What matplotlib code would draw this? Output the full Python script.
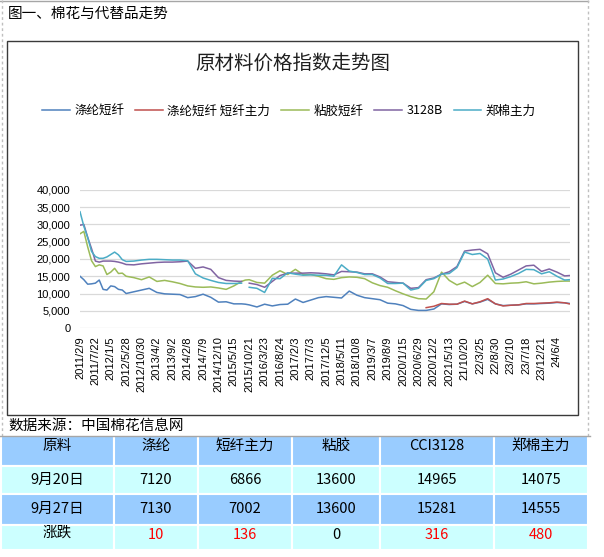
import numpy as np
import matplotlib
matplotlib.use("Agg")
import matplotlib.pyplot as plt
from matplotlib.patches import Rectangle
from matplotlib.lines import Line2D
from matplotlib.ticker import FuncFormatter

plt.rcParams['font.family'] = ['Noto Sans CJK SC', 'DejaVu Sans']

# ---------------- data ----------------
x_labels = ["2011/2/9", "2011/7/22", "2012/1/5", "2012/5/28", "2012/10/30", "2013/4/2",
            "2013/9/2", "2014/2/8", "2014/7/9", "2014/12/10", "2015/5/15", "2015/10/21",
            "2016/3/23", "2016/8/24", "2017/2/3", "2017/7/3", "2017/12/5", "2018/5/11",
            "2018/10/8", "2019/3/7", "2019/8/9", "2020/1/15", "2020/6/29", "2020/12/2",
            "2021/5/13", "21/10/20", "22/3/25", "22/8/30", "23/2/10", "23/7/18",
            "23/12/21", "24/6/4"]

# positions in units of x-label intervals
pos = [0, 0.25, 0.5, 0.75, 1, 1.25, 1.5, 1.75, 2, 2.25, 2.5, 2.75, 3,
       3.5, 4, 4.5, 5, 5.5, 6, 6.5, 7, 7.5, 8, 8.5, 9, 9.5, 10, 10.5, 10.75,
       11, 11.5, 12, 12.5, 13, 13.5, 14, 14.5, 15, 15.5, 16, 16.5, 17, 17.5,
       18, 18.5, 19, 19.5, 20, 20.5, 21, 21.5, 22, 22.5, 23, 23.5, 24, 24.5,
       25, 25.5, 26, 26.5, 27, 27.5, 28, 28.5, 29, 29.5, 30, 30.5, 31, 31.5, 31.8]

nan = float('nan')

polyester = [15000, 14000, 12700, 12800, 13000, 13900, 11200, 11000, 12200, 12000, 11200, 11000, 10000,
             10500, 11000, 11500, 10300, 9900, 9800, 9700, 8800, 9100, 9800, 8900, 7500, 7600, 7000, 7000, 6900,
             6700, 6100, 6900, 6400, 6800, 6900, 8400, 7400, 8100, 8800, 9100, 8900, 8700, 10700,
             9500, 8800, 8500, 8200, 7200, 7000, 6500, 5400, 5100, 5100, 5500, 7000, 6800, 6900,
             7700, 7000, 7500, 8300, 7000, 6500, 6600, 6700, 7000, 7000, 7100, 7200, 7400, 7300, 7130]

polyester_main = [nan] * 52 + [5900, 6300, 7100, 6900, 6900,
                               7800, 7000, 7600, 8500, 7000, 6400, 6600, 6700, 7100, 7100, 7200, 7300, 7500, 7300, 7000]

viscose = [27300, 28000, 23500, 19500, 17800, 18300, 18000, 15500, 16200, 17300, 15800, 15900, 15000,
           14600, 14000, 14800, 13500, 13800, 13400, 12900, 12200, 11900, 11800, 11900, 11600, 11200, 12200, 13500, 13900,
           14000, 13200, 13000, 15300, 16600, 15500, 17000, 15500, 15500, 15000, 14300, 14100, 14600, 14800,
           14700, 14300, 13100, 12300, 11800, 10800, 9900, 9100, 8500, 8400, 10500, 16200, 13800, 12500,
           13300, 12000, 13200, 15300, 12900, 12800, 13000, 13100, 13400, 12800, 13000, 13300, 13500, 13600, 13600]

cotton_3128b = [29800, 30000, 26300, 23000, 19400, 19100, 19400, 19400, 19400, 19300, 19100, 18800, 18400,
                18300, 18600, 18800, 19000, 19100, 19100, 19200, 19400, 17300, 17700, 17000, 14600, 13800, 13600, 13500, nan,
                13000, 12600, 11800, 13500, 15200, 15900, 15900, 15900, 16000, 15900, 15700, 15400, 16400, 16300,
                16200, 15700, 15700, 14800, 13400, 13200, 13000, 11500, 11700, 14000, 14500, 15600, 16300, 17800,
                22300, 22600, 22800, 21500, 16000, 14700, 15600, 16800, 18000, 18200, 16400, 17100, 16200, 15100, 15200]

zce_cotton = [33700, 29500, 26200, 22200, 20700, 20200, 20200, 20600, 21300, 22000, 21200, 19800, 19300,
              19400, 19700, 19900, 19900, 19800, 19700, 19700, 19500, 15700, 14500, 13800, 13200, 12900, 12900, 13000, nan,
              11800, 11500, 10300, 14400, 14300, 16000, 15600, 15300, 15400, 15300, 15300, 15000, 18300, 16500,
              16100, 15500, 15500, 14500, 12900, 12900, 13000, 11000, 11500, 13800, 14300, 15600, 15800, 17500,
              22000, 21300, 21600, 20000, 13900, 14200, 14900, 15800, 17000, 16900, 15700, 16300, 15000, 13900, 14000]

series_names = ["涤纶短纤", "涤纶短纤 短纤主力", "粘胶短纤", "3128B", "郑棉主力"]
series_colors = ["#4F81BD", "#C0504D", "#9BBB59", "#8064A2", "#4BACC6"]

table_header = ["原料", "涤纶", "短纤主力", "粘胶", "CCI3128", "郑棉主力"]
row_0920 = ["9月20日", "7120", "6866", "13600", "14965", "14075"]
row_0927 = ["9月27日", "7130", "7002", "13600", "15281", "14555"]
row_change = ["涨跌", "10", "136", "0", "316", "480"]

# ---------------- figure ----------------
W, H = 604, 557
fig = plt.figure(figsize=(W / 100, H / 100), dpi=100)
fig.patch.set_facecolor("white")


def fx(x):
    return x / W


def fy(y):
    return 1 - y / H


# outer borders
fig.add_artist(Line2D([fx(0), fx(588)], [fy(1), fy(1)], color="#A6A6A6", lw=1.0))
fig.add_artist(Line2D([fx(2), fx(2)], [fy(0), fy(436)], color="#BFBFBF", lw=1.0, ls=(0, (2, 2))))
fig.add_artist(Line2D([fx(588), fx(588)], [fy(0), fy(436)], color="#BFBFBF", lw=1.0, ls=(0, (2, 2))))

fig.text(fx(8), fy(14), "图一、棉花与代替品走势", fontsize=10.5, ha="left", va="center", color="black")

# chart box
fig.add_artist(Rectangle((fx(7), fy(415)), fx(578) - fx(7), fy(41) - fy(415),
                         transform=fig.transFigure, fill=False, edgecolor="#3A3A3A", lw=1.0))

fig.text(fx(293), fy(63), "原材料价格指数走势图", fontsize=14, ha="center", va="center", color="#1F1F1F")

# axes
ax = fig.add_axes([fx(80), fy(328), fx(570) - fx(80), fy(190) - fy(328)])
handles = []
for vals, name, col in zip([polyester, polyester_main, viscose, cotton_3128b, zce_cotton],
                           series_names, series_colors):
    h, = ax.plot(pos, vals, color=col, lw=1.1, label=name)
    handles.append(h)

ax.set_xlim(0, 31.85)
ax.set_ylim(0, 40000)
ax.set_yticks(np.arange(0, 40001, 5000))
ax.yaxis.set_major_formatter(FuncFormatter(lambda v, p: f"{v:,.0f}"))
ax.set_xticks(range(len(x_labels)))
ax.set_xticklabels(x_labels, rotation=90, fontsize=8, family="Liberation Sans")
for lab in ax.get_yticklabels():
    lab.set_family("Liberation Sans")
    lab.set_fontsize(8)
ax.tick_params(axis="both", length=0, colors="black")
ax.tick_params(axis="y", pad=7)
ax.tick_params(axis="x", pad=6)
ax.grid(axis="y", color="#D9D9D9", lw=0.9)
ax.set_axisbelow(True)
for s in ax.spines.values():
    s.set_visible(False)

fig.legend(handles=handles, labels=series_names, loc="center",
           bbox_to_anchor=(fx(289), fy(111)), ncol=5, frameon=False, fontsize=9,
           handlelength=2.2, columnspacing=0.9, handletextpad=0.35)

fig.text(fx(8), fy(426), "数据来源：中国棉花信息网", fontsize=10.5, ha="left", va="center", color="black")

# table
fig.add_artist(Line2D([fx(0), fx(590)], [fy(436), fy(436)], color="#A6A6A6", lw=1.0))
col_edges = [1, 114, 198, 292, 380, 494, 588]
row_edges = [436, 465.5, 494, 525, 550]
row_colors = ["#99CCFF", "#CCFFFF", "#99CCFF", "#CCFFFF"]
row_text_y = [446, 479.5, 509, 535]
rows = [table_header, row_0920, row_0927, row_change]
for r, (cells, bg) in enumerate(zip(rows, row_colors)):
    y0, y1 = row_edges[r], row_edges[r + 1]
    for c, txt in enumerate(cells):
        x0, x1 = col_edges[c], col_edges[c + 1]
        fig.add_artist(Rectangle((fx(x0), fy(y1)), fx(x1) - fx(x0), fy(y0) - fy(y1),
                                 transform=fig.transFigure, facecolor=bg, edgecolor="white", lw=1.5))
        color = "black"
        if r == 3 and c > 0:
            try:
                color = "red" if float(txt) != 0 else "black"
            except ValueError:
                pass
        ty = row_text_y[r]
        if r == 3 and c == 0:
            ty = 533
        fig.text(fx((x0 + x1) / 2), fy(ty), txt, fontsize=10.5, ha="center", va="center", color=color)

fig.savefig("out.png", dpi=100, facecolor="white")
